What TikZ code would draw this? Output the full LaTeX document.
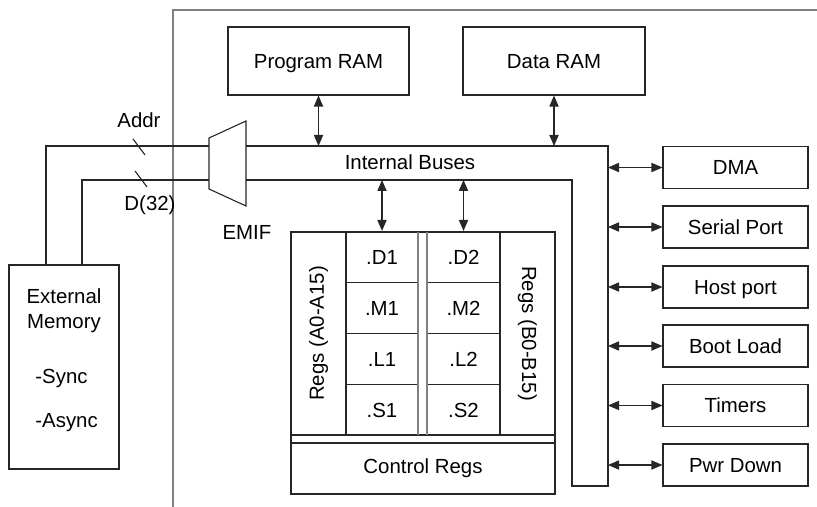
\documentclass[tikz,border=0pt]{standalone}
\usepackage{fontspec}
\setmainfont{Liberation Sans}
\usetikzlibrary{arrows.meta}
\tikzset{
  box/.style={draw=black!85, line width=0.55pt, inner sep=0pt, text height=7.3pt, text depth=0pt},
  unitbox/.style={box, minimum width=36pt, minimum height=25.5pt},
  perbox/.style={box, minimum width=72.5pt, minimum height=21pt},
  bus/.style={draw=black!85, line width=0.55pt},
  biarrow/.style={bus, {Triangle[length=5.5pt,width=4.6pt]}-{Triangle[length=5.5pt,width=4.6pt]}},
  lbl/.style={inner sep=0pt}
}
\begin{document}
\begin{tikzpicture}[x=0.5pt, y=-0.5pt, font=\fontsize{10.2}{12.5}\selectfont]
    \useasboundingbox (0,0) rectangle (817,507);
    % chip boundary
    \draw[gray, line width=0.7pt] (817,10) -- (173,10) -- (173,507);
    % memories
    \node[box, minimum width=90.5pt, minimum height=34pt] (pram) at (318.5,61) {Program RAM};
    \node[box, minimum width=91pt, minimum height=34pt] (dram) at (554,61) {Data RAM};
    % internal buses
    \coordinate (btop) at (246,146);
    \coordinate (bbot) at (246,180);
    \coordinate (bright) at (608,146);
    \draw[bus] (btop) -- (608,146) -- (608,486) -- (572,486) -- (572,180) -- (bbot);
    \node[lbl] (ibus) at (410,162) {Internal Buses};
    % EMIF
    \draw[bus] (209,138) -- (246,121) -- (246,206) -- (209,189) -- cycle;
    \coordinate (emifa) at (209,146);
    \coordinate (emifd) at (209,180);
    \node[lbl] (emif) at (247,232) {EMIF};
    % external memory
    \node[box, minimum width=55pt, minimum height=102pt] (extmem) at (64,367) {};
    \node[lbl, align=center] (extname) at (64,311) {External\\Memory};
    \node[lbl, anchor=west] (sync) at (35,378) {-Sync};
    \node[lbl, anchor=west] (async) at (35,423) {-Async};
    \draw[bus] (emifa) -- (46,146) -- (46,265);
    \draw[bus] (emifd) -- (82,180) -- (82,265);
    \draw[bus] (133,139) -- (145,155);
    \draw[bus] (135,171) -- (147,187);
    \node[lbl] (addr) at (139,120) {Addr};
    \node[lbl] (data) at (150,205) {D(32)};
    % CPU core
    \draw[box] (291,232) rectangle (555,494);
    \draw[box] (291,435) -- (555,435);
    \draw[box] (291,443) -- (555,443);
    \node[box, minimum width=27.5pt, minimum height=101.5pt] (rega) at (318.5,333.5) {};
    \node[lbl, rotate=90] at (rega) {Regs (A0-A15)};
    \node[box, minimum width=27.5pt, minimum height=101.5pt] (regb) at (527.5,333.5) {};
    \node[lbl, rotate=-90] at (regb) {Regs (B0-B15)};
    \node[unitbox] (d1) at (382,257) {.D1};
    \node[unitbox] (m1) at (382,308) {.M1};
    \node[unitbox] (l1) at (382,359) {.L1};
    \node[unitbox] (s1) at (382,410) {.S1};
    \node[unitbox] (d2) at (463.5,257) {.D2};
    \node[unitbox] (m2) at (463.5,308) {.M2};
    \node[unitbox] (l2) at (463.5,359) {.L2};
    \node[unitbox] (s2) at (463.5,410) {.S2};
    \draw[gray, line width=0.7pt] (418,232) -- (418,435);
    \draw[gray, line width=0.7pt] (427,232) -- (427,435);
    \node[lbl] (ctrl) at (423,468.5) {Control Regs};
    % peripherals
    \node[perbox] (dma) at (735.5,167.5) {DMA};
    \node[perbox] (serial) at (735.5,227) {Serial Port};
    \node[perbox] (host) at (735.5,287) {Host port};
    \node[perbox] (boot) at (735.5,346) {Boot Load};
    \node[perbox] (timers) at (735.5,405.5) {Timers};
    \node[perbox] (pwr) at (735.5,465) {Pwr Down};
    % connections
    \draw[biarrow] (pram) -- (pram |- btop);
    \draw[biarrow] (dram) -- (dram |- btop);
    \draw[biarrow] (bbot -| d1) -- (d1);
    \draw[biarrow] (bbot -| d2) -- (d2);
    \foreach \p in {dma,serial,host,boot,timers,pwr}
        \draw[biarrow] (bright |- \p) -- (\p);
\end{tikzpicture}
\end{document}
